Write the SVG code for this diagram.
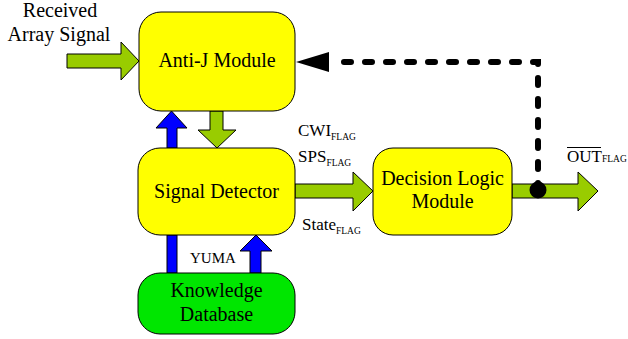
<svg xmlns="http://www.w3.org/2000/svg" width="628" height="339" viewBox="0 0 628 339">
<style>
  .node { stroke: #000; stroke-width: 1; }
  .yellow { fill: #FFFF00; }
  .green { fill: #00E600; }
  .lbl { font-size: 20px; text-anchor: middle; }
  .sig { font-size: 17px; }
  .sub { font-size: 9.5px; }
  .ga { fill: #99CC00; stroke: #000; stroke-width: 1; stroke-linejoin: miter; }
  .ba { fill: #0000FF; stroke: #000; stroke-width: 1; }
  .dash { fill: none; stroke: #000; stroke-width: 6; stroke-linecap: round; stroke-dasharray: 7 14; }
</style>
<rect width="628" height="339" fill="#fff"/>
<g id="connectors">
  <polygon class="ga" points="67,54 121,54 121,42 139,61 121,80 121,68 67,68"/>
  <polygon class="ba" points="167,148 167,128 156,128 171.5,111 187,128 177,128 177,148"/>
  <polygon class="ga" points="210,111 223,111 223,130 236,130 217,148 198,130 210,130"/>
  <rect class="ba" x="167" y="235" width="10" height="38"/>
  <polygon class="ba" points="250,273 250,251 240,251 256,235 272,251 261,251 261,273"/>
  <polygon class="ga" points="295,184 353,184 353,172 373,191 353,211 353,198 295,198"/>
  <polygon class="ga" points="512,184 578,184 578,172 598,191 578,211 578,198 512,198"/>
  <path class="dash" d="M538 190 V62 H334"/>
  <polygon points="296,62 329,52 329,72" fill="#000"/>
  <circle cx="538" cy="190" r="8.5" fill="#000"/>
</g>
<g font-family="'Liberation Serif', 'DejaVu Serif', 'Times New Roman', serif" fill="#000">
<g id="received-label">
  <text class="lbl" x="60" y="17">Received</text>
  <text class="lbl" x="59" y="41">Array Signal</text>
</g>
<g id="anti-j">
  <rect class="node yellow" x="139" y="12" width="156" height="99" rx="22"/>
  <text class="lbl" x="217" y="67">Anti-J Module</text>
</g>
<g id="signal-detector">
  <rect class="node yellow" x="138" y="148" width="157" height="87" rx="22"/>
  <text class="lbl" x="216.5" y="198">Signal Detector</text>
</g>
<g id="knowledge-db">
  <rect class="node green" x="138" y="273" width="157" height="61" rx="22"/>
  <text class="lbl" x="216.5" y="297">Knowledge</text>
  <text class="lbl" x="216.5" y="321">Database</text>
</g>
<g id="decision-logic">
  <rect class="node yellow" x="373" y="148" width="139" height="87" rx="20"/>
  <text class="lbl" x="442.5" y="185">Decision Logic</text>
  <text class="lbl" x="442.5" y="208">Module</text>
</g>
<g id="labels">
  <text class="sig" x="298" y="136">CWI<tspan class="sub" dy="4">FLAG</tspan></text>
  <text class="sig" x="298" y="162">SPS<tspan class="sub" dy="4">FLAG</tspan></text>
  <text class="sig" x="302" y="230">State<tspan class="sub" dy="4">FLAG</tspan></text>
  <text class="sig" x="567" y="162">OUT<tspan class="sub">FLAG</tspan></text>
  <line x1="567" y1="147.5" x2="601" y2="147.5" stroke="#000" stroke-width="1"/>
  <text x="190" y="263" font-size="15">YUMA</text>
</g>
</g>
</svg>
